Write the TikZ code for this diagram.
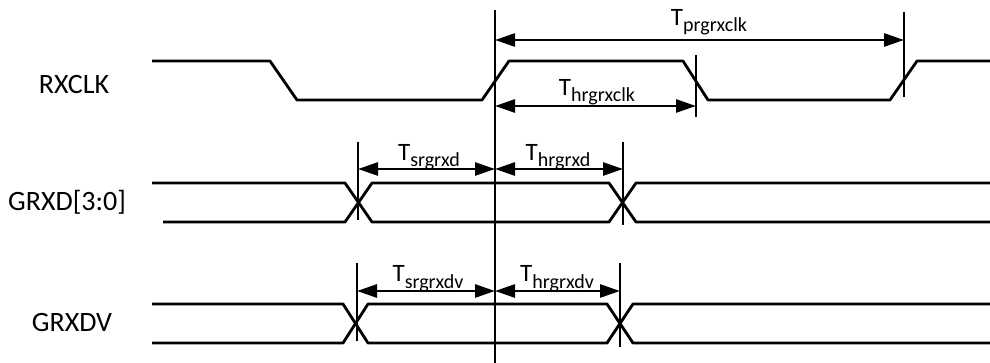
\documentclass[tikz,border=0pt]{standalone}
\usepackage{fontspec}
\setmainfont{Carlito}
\usetikzlibrary{arrows.meta}
\tikzset{
  sig/.style={line width=2.8pt, line join=round},
  mark line/.style={line width=2.8pt},
  dim/.style={line width=2.8pt, {Triangle[length=20pt,width=13pt]}-{Triangle[length=20pt,width=13pt]}},
  siglabel/.style={font=\fontsize{28}{28}\selectfont, inner sep=0pt},
  tlabel/.style={inner sep=0pt, anchor=base}
}
\newcommand{\tlab}[1]{{\fontsize{25}{25}\selectfont T}{\fontsize{20}{20}\selectfont\raisebox{-6pt}{#1}}}
\begin{document}
\begin{tikzpicture}[x=1pt,y=-1pt]
\useasboundingbox (0,0) rectangle (990,363);
% signal names
\node[siglabel] (nrx) at (74,85) {RXCLK};
\node[siglabel] (nrxd) at (67,202) {GRXD[3:0]};
\node[siglabel] (nrxdv) at (72,323) {GRXDV};
% RXCLK waveform
\draw[sig] (152,61) -- (270,61) -- (297,100) -- (482,100) -- (509,61) -- (683,61) -- (708,100) -- (890,100) -- (917,61) -- (990,61);
% GRXD waveform
\draw[sig] (152,183) -- (345,183) -- (372,222) -- (609,222) -- (636,183) -- (990,183);
\draw[sig] (163,222) -- (345,222) -- (372,183) -- (609,183) -- (636,222) -- (990,222);
% GRXDV waveform
\draw[sig] (152,304) -- (343,304) -- (368,343) -- (607,343) -- (633,304) -- (990,304);
\draw[sig] (152,343) -- (343,343) -- (368,304) -- (607,304) -- (633,343) -- (990,343);
% reference lines
\coordinate (m1) at (495,10);
\coordinate (m2) at (495,363);
\draw[mark line] (m1) -- (m2);
\coordinate (a1) at (696,55); \coordinate (a2) at (696,117);
\draw[mark line] (a1) -- (a2);
\coordinate (b1) at (904,12); \coordinate (b2) at (904,97);
\draw[mark line] (b1) -- (b2);
\coordinate (c1) at (358,142); \coordinate (c2) at (358,220);
\draw[mark line] (c1) -- (c2);
\coordinate (d1) at (623,142); \coordinate (d2) at (623,225);
\draw[mark line] (d1) -- (d2);
\coordinate (e1) at (357,263); \coordinate (e2) at (357,341);
\draw[mark line] (e1) -- (e2);
\coordinate (f1) at (620,263); \coordinate (f2) at (620,347);
\draw[mark line] (f1) -- (f2);
% dimension arrows
\coordinate (p0) at (495,40); \coordinate (p1) at (904,40);
\draw[dim] (p0) -- (p1);
\coordinate (h0) at (495,106); \coordinate (h1) at (696,106);
\draw[dim] (h0) -- (h1);
\coordinate (s0) at (358,169); \coordinate (s1) at (495,169);
\draw[dim] (s0) -- (s1);
\coordinate (t0) at (495,169); \coordinate (t1) at (623,169);
\draw[dim] (t0) -- (t1);
\coordinate (u0) at (357,291); \coordinate (u1) at (495,291);
\draw[dim] (u0) -- (u1);
\coordinate (v0) at (495,291); \coordinate (v1) at (620,291);
\draw[dim] (v0) -- (v1);
% timing labels
\node[tlabel] (lp) at (709,26) {\tlab{prgrxclk}};
\node[tlabel] (lh) at (597,96) {\tlab{hrgrxclk}};
\node[tlabel] (ls) at (429,161) {\tlab{srgrxd}};
\node[tlabel] (lt) at (558,161) {\tlab{hrgrxd}};
\node[tlabel] (lu) at (428,282) {\tlab{srgrxdv}};
\node[tlabel] (lv) at (557,282) {\tlab{hrgrxdv}};
\end{tikzpicture}
\end{document}
